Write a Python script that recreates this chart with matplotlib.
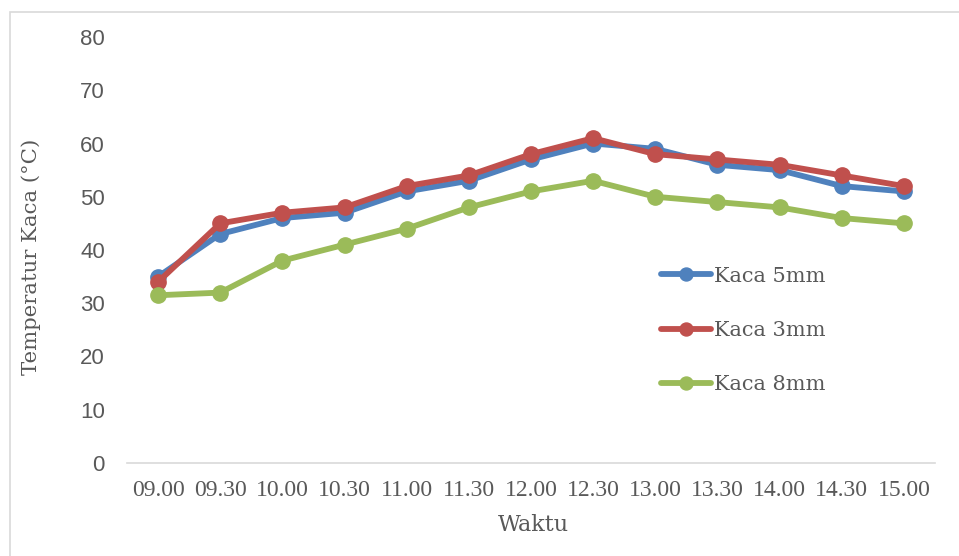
import matplotlib
matplotlib.use("Agg")
import matplotlib.pyplot as plt
from matplotlib.patches import Rectangle

times = ["09.00", "09.30", "10.00", "10.30", "11.00", "11.30", "12.00",
         "12.30", "13.00", "13.30", "14.00", "14.30", "15.00"]
kaca_5mm = [35, 43, 46, 47, 51, 53, 57, 60, 59, 56, 55, 52, 51]
kaca_3mm = [34, 45, 47, 48, 52, 54, 58, 61, 58, 57, 56, 54, 52]
kaca_8mm = [31.5, 32, 38, 41, 44, 48, 51, 53, 50, 49, 48, 46, 45]
y_ticks = [0, 10, 20, 30, 40, 50, 60, 70, 80]

W, H = 959, 556
fig = plt.figure(figsize=(W / 100, H / 100), dpi=100)
ax = fig.add_axes([127 / W, 1 - 463 / H, (935 - 127) / W, (463 - 37) / H])

# outer frame
fig.patches.append(Rectangle((9.5 / W, -0.1), 2, (1 - 11.5 / H) + 0.1,
                             transform=fig.transFigure, fill=False,
                             edgecolor="#D9D9D9", linewidth=1.2))

x = list(range(len(times)))
series = [("Kaca 5mm", kaca_5mm, "#4F81BD"),
          ("Kaca 3mm", kaca_3mm, "#C0504D"),
          ("Kaca 8mm", kaca_8mm, "#9BBB59")]
handles = []
for name, vals, c in series:
    h, = ax.plot(x, vals, color=c, linewidth=4.2, marker="o", markersize=11,
                 label=name, solid_capstyle="round")
    handles.append(h)

ax.set_xlim(-0.5, len(times) - 0.5)
ax.set_ylim(0, 80)
ax.set_yticks(y_ticks)
ax.set_xticks(x)
ax.set_xticklabels(times, fontfamily="Liberation Serif", fontsize=17, color="#595959")
ax.set_yticklabels([str(v) for v in y_ticks], fontfamily="Liberation Sans",
                   fontsize=16, color="#595959")
ax.tick_params(axis="both", length=0)
ax.tick_params(axis="y", pad=16)
ax.tick_params(axis="x", pad=12)
for s in ["top", "right", "left"]:
    ax.spines[s].set_visible(False)
ax.spines["bottom"].set_color("#D9D9D9")
ax.spines["bottom"].set_linewidth(1.2)

fig.text(533 / W, 1 - 525 / H, "Waktu", ha="center", va="center",
         fontfamily="DejaVu Serif", fontsize=16, color="#595959")
fig.text(31 / W, 1 - 257 / H, "Temperatur Kaca (°C)", ha="center", va="center",
         rotation=90, fontfamily="DejaVu Serif", fontsize=15.3, color="#595959")

leg = fig.legend(handles=handles, loc="upper left",
                 bbox_to_anchor=(642 / W, 1 - 248 / H),
                 frameon=False, prop={"family": "DejaVu Serif", "size": 15},
                 labelcolor="#595959", handlelength=2.4, handletextpad=0.15,
                 labelspacing=1.69, markerscale=0.85)

fig.savefig("out.png", dpi=100)
